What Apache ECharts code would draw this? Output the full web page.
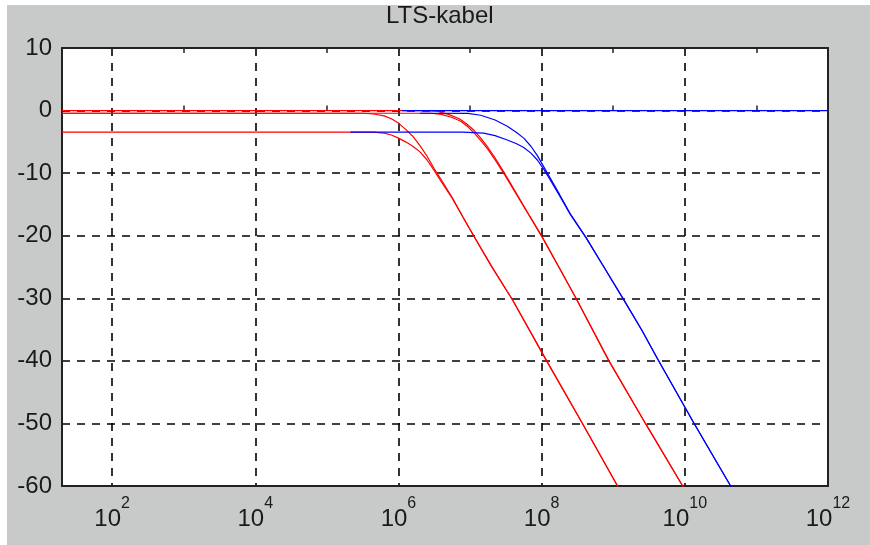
<!DOCTYPE html>
<html><head><meta charset="utf-8">
<script src="https://cdn.jsdelivr.net/npm/echarts@6/dist/echarts.min.js"></script>
<style>
html,body{margin:0;padding:0;background:#fff;}
#bg{position:absolute;left:7px;top:5px;width:863px;height:540px;background:#c8caca;}
#chart{position:absolute;left:0;top:0;width:870px;height:545px;}
</style></head><body>
<div id="bg"></div><div id="chart"></div>
<script>
// x values are log10(frequency / Hz); y values are gain in dB
const xMinExp = 1.3, xMaxExp = 12;
const xMinorTickExps = [3, 5, 7, 9, 11];

// red, level 0 dB, second group
const red0Exp = [1.3, 6.4, 6.55, 6.7, 6.85, 6.95, 7.05, 7.15, 7.25, 7.35, 7.47, 7.6, 7.8, 8.0, 8.24, 8.48, 8.94, 9.45, 9.97, 10.1];
const red0Db  = [0, 0, -0.15, -0.6, -1.3, -2.1, -3.1, -4.4, -5.9, -7.6, -9.8, -12.3, -16.2, -20.0, -25.0, -30.0, -40.0, -50.0, -60.0, -62.6];
// red, level -0.43 dB, first group
const red1Exp = [1.3, 5.5, 5.65, 5.8, 5.9, 6.0, 6.1, 6.2, 6.3, 6.4, 6.5, 6.6, 6.75, 6.9, 7.05, 7.3, 7.59, 8.07, 8.57, 9.06, 9.2];
const red1Db  = [-0.43, -0.43, -0.55, -0.85, -1.3, -2.0, -3.0, -4.1, -5.6, -7.3, -9.3, -11.1, -13.9, -17.0, -20.0, -24.9, -30.2, -40.0, -50.0, -60.0, -62.8];
// red, level -3.45 dB, first group
const red2Exp = [1.3, 5.65, 5.8, 5.9, 6.0, 6.1, 6.2, 6.3, 6.4, 6.5, 6.6, 6.75, 6.9, 7.05, 7.3, 7.59, 8.07, 8.57, 9.06, 9.2];
const red2Db  = [-3.45, -3.45, -3.6, -3.9, -4.4, -5.0, -5.7, -6.6, -7.9, -9.6, -11.4, -14.0, -17.0, -20.0, -24.9, -30.2, -40.0, -50.0, -60.0, -62.8];
// red, level -0.43 dB, second group
const red3Exp = [1.3, 6.45, 6.6, 6.75, 6.87, 6.97, 7.05, 7.15, 7.25, 7.35, 7.47, 7.6, 7.8, 8.0, 8.24, 8.48, 8.94, 9.45, 9.97, 10.1];
const red3Db  = [-0.43, -0.43, -0.6, -1.1, -1.7, -2.6, -3.5, -4.8, -6.2, -7.9, -10.0, -12.5, -16.3, -20.1, -25.0, -30.0, -40.0, -50.0, -60.0, -62.6];
// blue, flat 0 dB
const blue0Exp = [6.05, 12];
const blue0Db  = [0, 0];
// blue, level -0.43 dB
const blue1Exp = [6.3, 6.97, 7.15, 7.35, 7.52, 7.65, 7.75, 7.85, 7.94, 8.03, 8.12, 8.25, 8.4, 8.62, 8.88, 9.15, 9.4, 9.63, 10.13, 10.64, 10.8];
const blue1Db  = [-0.43, -0.45, -0.75, -1.5, -2.5, -3.5, -4.4, -5.7, -7.2, -9.0, -10.8, -13.4, -16.5, -20.3, -25.2, -30.3, -35.1, -39.9, -50.0, -60.0, -63.2];
// blue, level -3.45 dB
const blue2Exp = [5.33, 6.9, 7.19, 7.35, 7.52, 7.65, 7.75, 7.85, 7.94, 8.03, 8.12, 8.25, 8.4, 8.62, 8.88, 9.15, 9.4, 9.63, 10.13, 10.64, 10.8];
const blue2Db  = [-3.45, -3.45, -3.6, -4.0, -4.7, -5.3, -5.9, -6.8, -7.9, -9.4, -11.1, -13.6, -16.6, -20.3, -25.2, -30.3, -35.1, -39.9, -50.0, -60.0, -63.2];

const FONT = '"Liberation Sans", Arial, sans-serif';
const zip = (xs, ys) => xs.map((x, i) => [x, ys[i]]);
function line(name, xs, ys, color) {
  return { name, type: 'line', data: zip(xs, ys), showSymbol: false, symbol: 'none',
    lineStyle: { color, width: 1.2 }, itemStyle: { color }, clip: true, animation: false };
}

const chart = echarts.init(document.getElementById('chart'), null, { renderer: 'canvas' });
const dash = { color: '#000', width: 1.6, type: [8, 7] };
const frame = { show: true, onZero: false, lineStyle: { color: '#222', width: 2 } };
const minorTicks = { show: true, inside: true, length: 5, customValues: xMinorTickExps, lineStyle: { color: '#222', width: 1.5 } };
chart.setOption({
  animation: false,
  title: { text: 'LTS-kabel', left: 386, top: 4, padding: 0,
    textStyle: { fontFamily: FONT, fontSize: 24, fontWeight: 'normal', color: '#1a1a1a' } },
  grid: { left: 62, right: 42, top: 48, bottom: 59, show: true, backgroundColor: '#fff', borderWidth: 0 },
  xAxis: [{
    // main bottom axis: decade labels and dashed grid
    type: 'value', min: xMinExp, max: xMaxExp, splitNumber: 5, position: 'bottom',
    axisLine: frame,
    axisTick: { show: false },
    splitLine: { show: true, lineStyle: dash },
    axisLabel: { margin: 10, color: '#1a1a1a',
      formatter: v => { const r = Math.round(v); if (Math.abs(v - r) > 1e-6 || r % 2) return ''; return '{b|10}{s|' + r + '}'; },
      rich: { b: { fontFamily: FONT, fontSize: 24, lineHeight: 46, color: '#1a1a1a' },
              s: { fontFamily: FONT, fontSize: 16, lineHeight: 16, verticalAlign: 'top', color: '#1a1a1a' } } }
  }, {
    // top frame with odd-decade ticks
    type: 'value', min: xMinExp, max: xMaxExp, position: 'top',
    axisLine: frame, axisTick: minorTicks,
    splitLine: { show: false }, axisLabel: { show: false }
  }, {
    // bottom odd-decade ticks
    type: 'value', min: xMinExp, max: xMaxExp, position: 'bottom',
    axisLine: { show: false }, axisTick: minorTicks,
    splitLine: { show: false }, axisLabel: { show: false }
  }],
  yAxis: [{
    type: 'value', min: -60, max: 10, interval: 10, position: 'left',
    axisLine: frame,
    axisTick: { show: false },
    splitLine: { show: true, lineStyle: dash },
    axisLabel: { margin: 10, fontFamily: FONT, fontSize: 24, color: '#1a1a1a' }
  }, {
    type: 'value', min: -60, max: 10, interval: 10, position: 'right',
    axisLine: frame, axisTick: { show: false }, splitLine: { show: false }, axisLabel: { show: false }
  }],
  series: [
    line('red0', red0Exp, red0Db, '#ff0000'),
    line('red1', red1Exp, red1Db, '#ff0000'),
    line('red2', red2Exp, red2Db, '#ff0000'),
    line('red3', red3Exp, red3Db, '#ff0000'),
    line('blue0', blue0Exp, blue0Db, '#0000ff'),
    line('blue1', blue1Exp, blue1Db, '#0000ff'),
    line('blue2', blue2Exp, blue2Db, '#0000ff')
  ]
});
</script>
</body></html>
